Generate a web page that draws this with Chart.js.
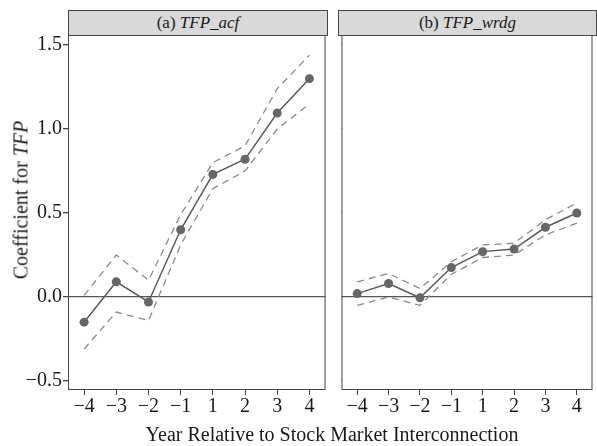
<!DOCTYPE html>
<html>
<head>
<meta charset="utf-8">
<script src="https://cdn.jsdelivr.net/npm/chart.js@4.4.1/dist/chart.umd.min.js"></script>
<style>
  body { margin: 0; background: #fff; }
  #wrap { position: relative; width: 597px; height: 446px; font-family: "Liberation Serif", "DejaVu Serif", serif; color: #1a1a1a; }
  canvas { position: absolute; }
  .strip { position: absolute; top: 10px; height: 24px; background: #d9d9d9; border: 1px solid #444; box-sizing: content-box;
           font-size: 17px; line-height: 24px; text-align: center; }
  #ytitle { position: absolute; left: 21px; top: 200px; transform: translate(-50%, -50%) rotate(-90deg); white-space: nowrap; font-size: 20px; }
  #xtitle { position: absolute; left: 332px; top: 434px; transform: translate(-50%, -50%); white-space: nowrap; font-size: 20px; }
</style>
</head>
<body>
<div id="wrap">
  <canvas id="left" width="330" height="425" style="left:0; top:0;"></canvas>
  <canvas id="right" width="260" height="425" style="left:337px; top:0;"></canvas>
  <div class="strip" style="left:68px; width:258px;">(a) <i>TFP_acf</i></div>
  <div class="strip" style="left:338px; width:257px;">(b) <i>TFP_wrdg</i></div>
  <div id="ytitle">Coefficient for <i>TFP</i></div>
  <div id="xtitle">Year Relative to Stock Market Interconnection</div>
</div>
<script>
const years = ["−4", "−3", "−2", "−1", "1", "2", "3", "4"];
const yTicks = [-0.5, 0, 0.5, 1.0, 1.5];

// panel (a) TFP_acf
const acfCoef = [-0.15, 0.09, -0.03, 0.40, 0.73, 0.82, 1.095, 1.30];
const acfUpper = [0.01, 0.25, 0.10, 0.49, 0.80, 0.90, 1.24, 1.44];
const acfLower = [-0.31, -0.09, -0.14, 0.31, 0.645, 0.75, 1.00, 1.15];

// panel (b) TFP_wrdg
const wrdgCoef = [0.02, 0.08, -0.005, 0.175, 0.27, 0.285, 0.415, 0.50];
const wrdgUpper = [0.09, 0.14, 0.05, 0.21, 0.31, 0.32, 0.46, 0.56];
const wrdgLower = [-0.05, 0.0, -0.05, 0.135, 0.235, 0.25, 0.37, 0.44];

const tickFont = { family: "'Liberation Serif', 'DejaVu Serif', serif", size: 20 };

// box around the plot area like the facet panel border
const panelBox = {
    id: "panelBox",
    afterDraw(chart) {
        const a = chart.chartArea;
        const ctx = chart.ctx;
        ctx.save();
        ctx.strokeStyle = "#444";
        ctx.lineWidth = 1;
        ctx.strokeRect(a.left + 0.5, a.top + 0.5, a.right - a.left - 1, a.bottom - a.top - 1);
        ctx.restore();
    },
};

function makePanel(id, coef, upper, lower, showY) {
    const dashed = (d) => ({
        data: d,
        borderColor: "#8a8a8a",
        borderWidth: 1.3,
        borderDash: [7, 5],
        pointRadius: 0,
        fill: false,
    });
    return new Chart(document.getElementById(id).getContext("2d"), {
        type: "line",
        data: {
            labels: years,
            datasets: [
                dashed(upper),
                dashed(lower),
                {
                    data: coef,
                    borderColor: "#5a5a5a",
                    borderWidth: 1.5,
                    pointRadius: 4.5,
                    pointBackgroundColor: "#666",
                    pointBorderWidth: 0,
                },
            ],
        },
        options: {
            responsive: false,
            animation: false,
            layout: { padding: { top: 35, right: showY ? 3 : 1, left: showY ? 0 : 1, bottom: 0 } },
            plugins: { legend: { display: false }, tooltip: { enabled: false } },
            scales: {
                x: {
                    offset: true,
                    grid: { display: true, drawOnChartArea: false, tickLength: 5, tickColor: "#444" },
                    border: { display: false },
                    ticks: { color: "#1a1a1a", font: tickFont, padding: 0, maxRotation: 0 },
                    afterFit: (s) => { s.height = 35; },
                },
                y: {
                    min: -0.554,
                    max: 1.56,
                    display: true,
                    afterBuildTicks: (s) => { s.ticks = yTicks.map((v) => ({ value: v })); },
                    grid: {
                        color: (c) => (c.tick && c.tick.value === 0 ? "#555" : "rgba(0,0,0,0)"),
                        lineWidth: 1.3,
                        tickLength: showY ? 5 : 0,
                        tickColor: "#444",
                    },
                    border: { display: false },
                    ticks: {
                        display: showY,
                        color: "#1a1a1a",
                        font: tickFont,
                        padding: 1,
                        callback: (v) => (v < 0 ? "−" + Math.abs(v).toFixed(1) : v.toFixed(1)),
                    },
                    afterFit: (s) => { s.width = showY ? 68 : 1; },
                },
            },
        },
        plugins: [panelBox],
    });
}

makePanel("left", acfCoef, acfUpper, acfLower, true);
makePanel("right", wrdgCoef, wrdgUpper, wrdgLower, false);
</script>
</body>
</html>
